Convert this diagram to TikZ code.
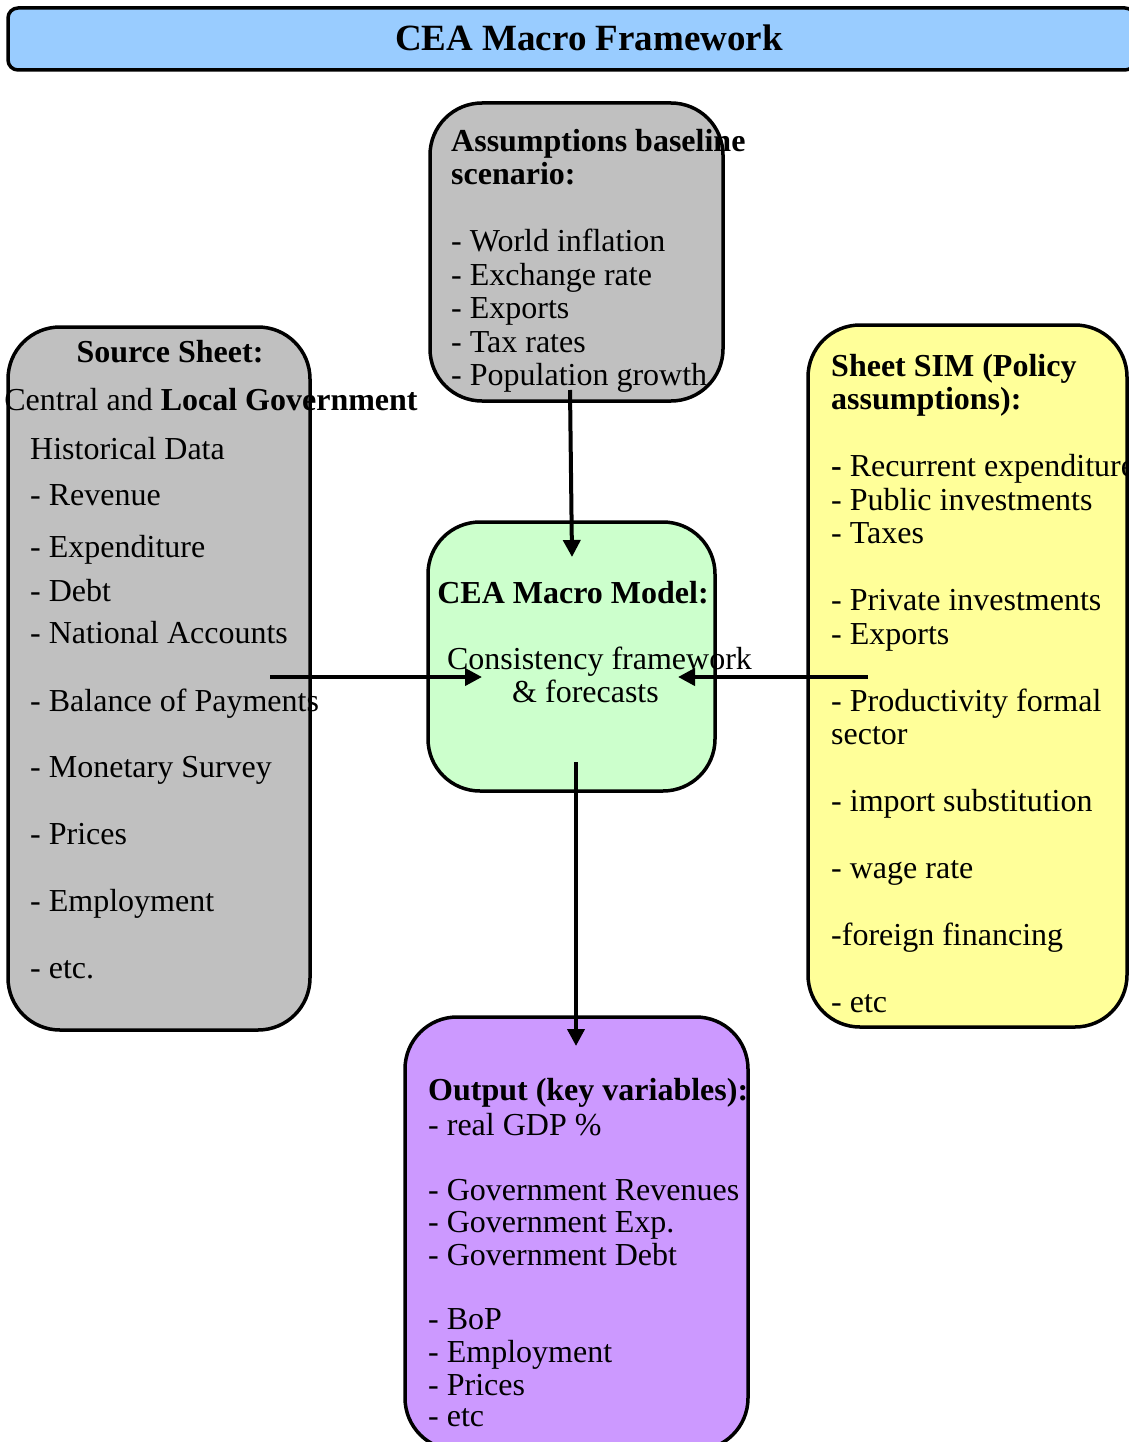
\documentclass[tikz,border=0pt]{standalone}
\usepackage{fontspec}
\setmainfont{Liberation Serif}
\usetikzlibrary{arrows.meta, positioning}

\definecolor{titleblue}{HTML}{99CCFF}
\definecolor{sheetgray}{HTML}{C0C0C0}
\definecolor{modelgreen}{HTML}{CCFFCC}
\definecolor{simyellow}{HTML}{FFFF99}
\definecolor{outpurple}{HTML}{CC99FF}

\newcommand{\bodysize}{\fontsize{32}{33.5}\selectfont}

\tikzset{
  sheet/.style={draw, line width=3.5pt, rounded corners=52pt, inner sep=0pt},
  txtline/.style={inner sep=0pt, anchor=base west, font=\bodysize},
  ctxtline/.style={txtline, anchor=base},
  flow/.style={line width=4pt, -{Triangle[length=17pt,width=17pt]}},
}

\begin{document}
\begin{tikzpicture}[x=1pt, y=-1pt]
    \useasboundingbox (0,0) rectangle (1128,1442);

    % Title bar
    \node[sheet, rounded corners=10pt, fill=titleblue, minimum width=1127, minimum height=62] (title) at (571.5,39) {};
    \node[inner sep=0pt, anchor=base, font=\fontsize{37}{40}\selectfont\bfseries] (titletxt) at (589,51) {CEA Macro Framework};

    % Sheets
    \node[sheet, fill=sheetgray, minimum width=293, minimum height=298] (assump) at (576.5,252) {};
    \node[sheet, fill=sheetgray, minimum width=302, minimum height=703] (source) at (159,678.5) {};
    \node[sheet, fill=modelgreen, minimum width=287, minimum height=269] (model) at (571.5,656.5) {};
    \node[sheet, fill=simyellow, minimum width=319, minimum height=702] (sim) at (967.5,676) {};
    \node[sheet, fill=outpurple, minimum width=343, minimum height=433] (output) at (576.5,1233.5) {};

    % Assumptions baseline scenario
    \foreach \yy/\tx [count=\i] in {152/\textbf{Assumptions baseline}, 185/\textbf{scenario:},
        251/- World inflation, 285/- Exchange rate, 318/- Exports, 352/- Tax rates, 385/- Population growth}
        \node[txtline] (assumpline\i) at (451,\yy) {\tx};

    % Source sheet
    \node[ctxtline, font=\bodysize\bfseries] (srchead) at (170,362) {Source Sheet:};
    \node[ctxtline] (srcsub) at (211,410) {Central and \textbf{Local Government}};
    \foreach \yy/\tx [count=\i] in {459/Historical Data, 505/- Revenue, 557/- Expenditure, 601/- Debt,
        643/- National Accounts, 711/- Balance of Payments, 777/- Monetary Survey, 844/- Prices,
        911/- Employment, 978/- etc.}
        \node[txtline] (srcline\i) at (30,\yy) {\tx};

    % Macro model
    \node[ctxtline, font=\bodysize\bfseries] (modelhead) at (573,603) {CEA Macro Model:};
    \node[ctxtline] (modelline1) at (599.5,669) {Consistency framework};
    \node[ctxtline] (modelline2) at (585.5,702) {\& forecasts};

    % Sheet SIM
    \foreach \yy/\tx [count=\i] in {376/\textbf{Sheet SIM (Policy}, 409/\textbf{assumptions):},
        476/\textbf{-} Recurrent expenditure, 510/- Public investments, 543/- Taxes,
        610/- Private investments, 644/- Exports, 711/- Productivity formal, 744/sector,
        811/- import substitution, 878/- wage rate, 945/-foreign financing, 1012/- etc}
        \node[txtline] (simline\i) at (831,\yy) {\tx};

    % Output
    \foreach \yy/\tx [count=\i] in {1100/\textbf{Output (key variables):}, 1135/- real GDP \%,
        1200/- Government Revenues, 1232/- Government Exp., 1265/- Government Debt,
        1329/- BoP, 1362/- Employment, 1395/- Prices, 1426/- etc}
        \node[txtline] (outline\i) at (428,\yy) {\tx};

    % Flow ends
    \coordinate (assumpout) at (570,390);
    \coordinate (modeltop) at (572,557);
    \coordinate (srcout) at (270,677);
    \coordinate (modelleft) at (482,677);
    \coordinate (simout) at (868,677);
    \coordinate (modelright) at (678,677);
    \coordinate (modelout) at (576,762);
    \coordinate (outtop) at (576,1046);

    \draw[flow] (assumpout) -- (modeltop);
    \draw[flow] (srcout) -- (modelleft);
    \draw[flow] (simout) -- (modelright);
    \draw[flow] (modelout) -- (outtop);
\end{tikzpicture}
\end{document}
